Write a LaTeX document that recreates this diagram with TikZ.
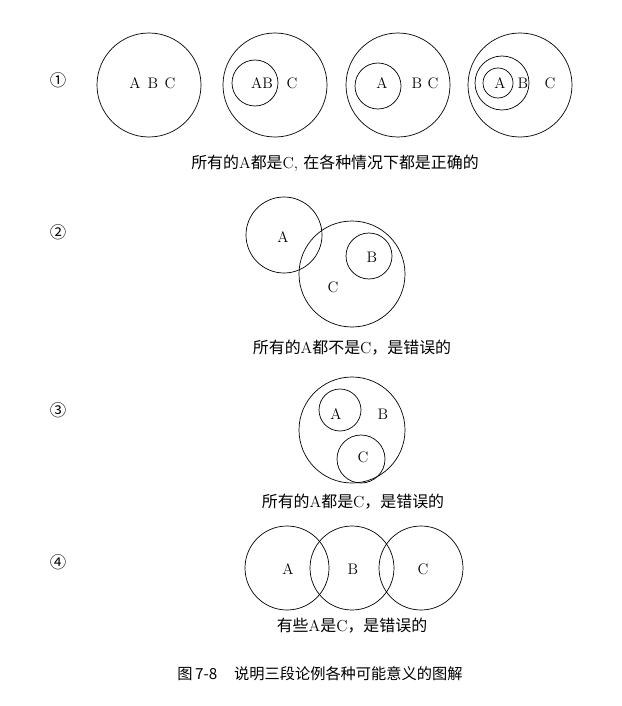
\documentclass[tikz,border=0pt]{standalone}
\usepackage{fontspec}
\newfontfamily\cjk{Noto Sans CJK SC}

\begin{document}
\begin{tikzpicture}[x=0.03cm,y=-0.03cm,
    ring/.style={line width=0.6pt},
    lbl/.style={font=\fontsize{13}{15}\selectfont},
    capt/.style={font=\fontsize{13.6}{16}\selectfont},
    num/.style={font=\cjk\fontsize{14}{16}\selectfont}]
  \useasboundingbox (0,0) rectangle (621,706);
  % case numbers
  \foreach \n/\s/\y in {1/①/80,2/②/232,3/③/410,4/④/562}
    \node[num] (num\n) at (58,\y) {\s};

  % row 1
  \foreach \x in {149,275,398,520}
    \draw[ring] (\x,85) circle (52);
  \draw[ring] (255,83) circle (23);
  \draw[ring] (378,86) circle (23);
  \draw[ring] (502,83) circle (27);
  \draw[ring] (498,83) circle (15);
  \foreach \i/\v/\x in {a1/A/135,b1/B/153,c1/C/170,ab2/AB/262,c2/C/292,
      a3/A/382,b3/B/417,c3/C/433,a4/A/500,b4/B/523,c4/C/550}
    \node[lbl] (\i) at (\x,83) {\v};
  \node[capt] (capt1) at (335,163)
    {{\cjk 所有的}A{\cjk 都是}C, {\cjk 在各种情况下都是正确的}};

  % row 2
  \draw[ring] (284,235) circle (38);
  \draw[ring] (352,274) circle (53);
  \draw[ring] (369,256) circle (23);
  \node[lbl] (a5) at (283,237) {A};
  \node[lbl] (b5) at (372,257) {B};
  \node[lbl] (c5) at (333,287) {C};
  \node[capt] (capt2) at (352,348)
    {{\cjk 所有的}A{\cjk 都不是}C{\cjk ，是错误的}};

  % row 3
  \draw[ring] (352,430) circle (53);
  \draw[ring] (340,410) circle (21);
  \draw[ring] (361,459) circle (24);
  \node[lbl] (a6) at (336,414) {A};
  \node[lbl] (b6) at (383,414) {B};
  \node[lbl] (c6) at (363,457) {C};
  \node[capt] (capt3) at (353,502)
    {{\cjk 所有的}A{\cjk 都是}C{\cjk ，是错误的}};

  % row 4
  \foreach \x in {287,352,421}
    \draw[ring] (\x,568) circle (42);
  \node[lbl] (a7) at (288,569) {A};
  \node[lbl] (b7) at (353,569) {B};
  \node[lbl] (c7) at (423,569) {C};
  \node[capt] (capt4) at (352,626)
    {{\cjk 有些}A{\cjk 是}C{\cjk ，是错误的}};

  % figure caption
  \node[font=\cjk\fontsize{13}{15}\selectfont] (fig) at (320,674)
    {图\,7-8\hspace{1.1em}说明三段论例各种可能意义的图解};
\end{tikzpicture}
\end{document}
